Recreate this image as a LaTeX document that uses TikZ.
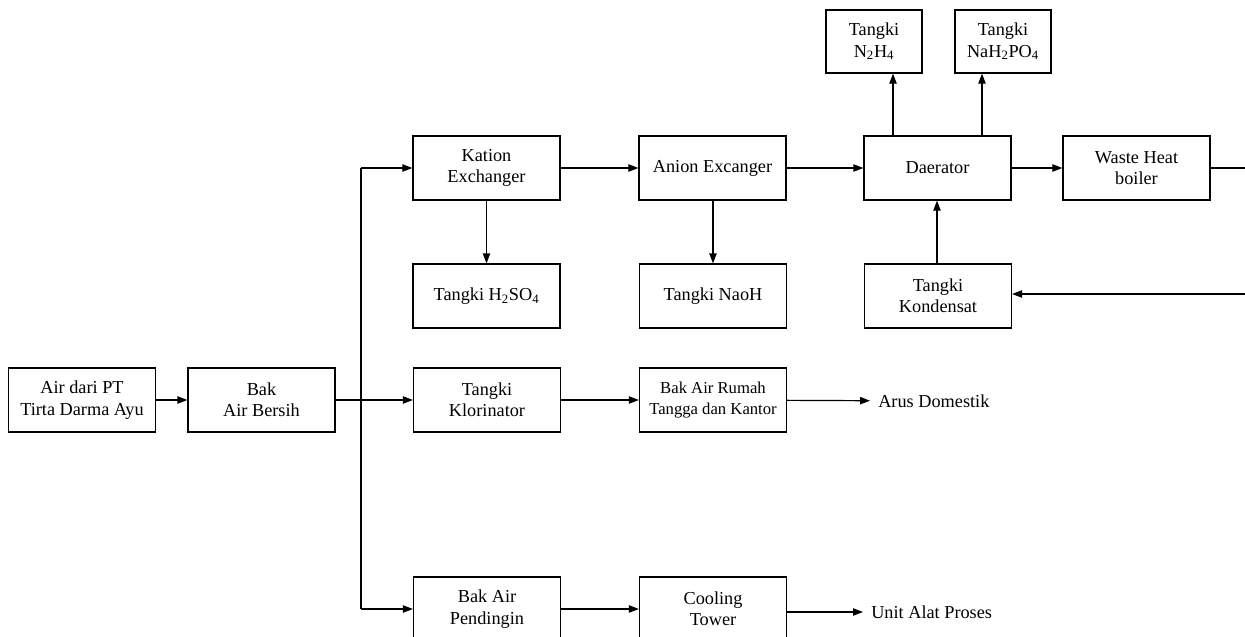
\documentclass[tikz,border=0pt]{standalone}
\usepackage{fontspec}
\setmainfont{Liberation Serif}
\usetikzlibrary{arrows.meta}
\newcommand{\sbs}[1]{\textsubscript{#1}}
\begin{document}
\begin{tikzpicture}[x=0.75pt,y=-0.75pt,
  box/.style={draw, line width=0.9pt, rectangle, align=center, minimum width=110.25pt, minimum height=48pt, inner sep=1pt, font=\fontsize{13.7}{16}\selectfont},
  tank/.style={box, minimum width=72pt, minimum height=47.25pt},
  lbl/.style={align=left, inner sep=6pt, font=\fontsize{13.7}{16}\selectfont},
  conn/.style={line width=0.9pt},
  arr/.style={conn, -{Triangle[length=7.5pt,width=5.5pt]}}]
\useasboundingbox (0,0) rectangle (1245,636);
\fill[white] (0,0) rectangle (1245,636);
% nodes
\node[box] (air) at (82,400) {Air dari PT\\Tirta Darma Ayu};
\node[box] (bak) at (261.5,400) {Bak\\Air Bersih};
\node[box] (kation) at (486.5,168) {Kation\\Exchanger};
\node[box] (anion) at (712.5,168) {Anion Excanger};
\node[box] (daer) at (937.5,168) {Daerator};
\node[box] (waste) at (1136.5,168) {Waste Heat\\boiler};
\node[tank] (n2h4) at (874,41.5) {Tangki\\N\sbs{2}H\sbs{4}};
\node[tank] (nah) at (1003,41.5) {Tangki\\NaH\sbs{2}PO\sbs{4}};
\node[box] (h2so4) at (486.5,296) {Tangki H\sbs{2}SO\sbs{4}};
\node[box] (naoh) at (713,296) {Tangki NaoH};
\node[box] (kond) at (938,296) {Tangki\\Kondensat};
\node[box] (klor) at (487,400) {Tangki\\Klorinator};
\node[box] (rumah) at (713,400) {\fontsize{12.5}{15}\selectfont Bak Air Rumah\\\fontsize{12.5}{15}\selectfont Tangga dan Kantor};
\node[box] (pend) at (487,609) {Bak Air\\Pendingin};
\node[box] (cool) at (713,609) {Cooling\\Tower};
\node[lbl, anchor=west] (dom) at (870,401) {Arus Domestik};
\node[lbl, anchor=west] (unit) at (863,612) {Unit Alat Proses};
\coordinate (jx) at (361,400);
\coordinate (outw) at (1245,168);
\coordinate (inw) at (1245,294);
% connectors
\draw[arr] (air) -- (bak);
\draw[arr] (bak) -- (klor);
\draw[conn] (jx |- kation.west) -- (jx |- pend.west);
\draw[arr] (jx |- kation.west) -- (kation);
\draw[arr] (jx |- pend.west) -- (pend);
\draw[arr] (kation) -- (anion);
\draw[arr] (anion) -- (daer);
\draw[arr] (daer) -- (waste);
\draw[conn] (waste) -- (outw);
\draw[arr] (kation) -- (h2so4);
\draw[arr] (anion.south -| naoh) -- (naoh);
\draw[arr] (daer.north -| 893,0) -- (n2h4.south -| 893,0);
\draw[arr] (daer.north -| 982,0) -- (nah.south -| 982,0);
\draw[arr] (kond.north -| 937,0) -- (daer.south -| 937,0);
\draw[arr] (inw) -- (inw -| kond.east);
\draw[arr] (klor) -- (rumah);
\draw[arr] (rumah) -- (dom);
\draw[arr] (pend) -- (cool);
\draw[arr] (cool.east |- unit.west) -- (unit);
\end{tikzpicture}
\end{document}
